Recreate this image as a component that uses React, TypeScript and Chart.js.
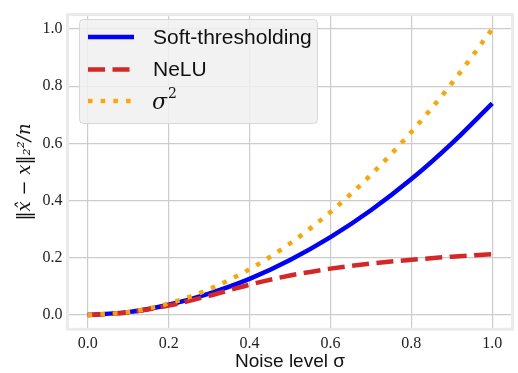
import React, { useEffect, useRef } from "react";
import { Chart, registerables } from "chart.js";

Chart.register(...registerables);

const sigma = [0, 0.1, 0.2, 0.3, 0.4, 0.5, 0.6, 0.7, 0.8, 0.9, 1.0];
const softThresholding = [0, 0.01, 0.036, 0.075, 0.126, 0.192, 0.272, 0.366, 0.475, 0.6, 0.74];
const nelu = [0, 0.009, 0.033, 0.067, 0.106, 0.138, 0.162, 0.18, 0.193, 0.204, 0.213];
const sigmaSquared = [0, 0.01, 0.04, 0.09, 0.16, 0.25, 0.36, 0.49, 0.64, 0.81, 1.0];
const tickValues = [0, 0.2, 0.4, 0.6, 0.8, 1.0];
const seriesLabels = ["Soft-thresholding", "NeLU", "σ²"];

const toPoints = (ys: number[]) => sigma.map((x, i) => ({ x, y: ys[i] }));

const framePlugin = {
  id: "frameAndLegend",
  beforeDatasetsDraw(chart: any) {
    const { ctx, chartArea } = chart;
    ctx.save();
    ctx.strokeStyle = "#ebebeb";
    ctx.lineWidth = 3;
    ctx.strokeRect(chartArea.left, chartArea.top, chartArea.right - chartArea.left, chartArea.bottom - chartArea.top);
    ctx.restore();
  },
  afterDraw(chart: any) {
    const { ctx } = chart;
    ctx.save();
    const bx = 79.5, by = 19.5, bw = 238, bh = 104, r = 4;
    ctx.beginPath();
    ctx.moveTo(bx + r, by);
    ctx.lineTo(bx + bw - r, by);
    ctx.quadraticCurveTo(bx + bw, by, bx + bw, by + r);
    ctx.lineTo(bx + bw, by + bh - r);
    ctx.quadraticCurveTo(bx + bw, by + bh, bx + bw - r, by + bh);
    ctx.lineTo(bx + r, by + bh);
    ctx.quadraticCurveTo(bx, by + bh, bx, by + bh - r);
    ctx.lineTo(bx, by + r);
    ctx.quadraticCurveTo(bx, by, bx + r, by);
    ctx.closePath();
    ctx.fillStyle = "rgba(240,240,240,0.85)";
    ctx.fill();
    ctx.strokeStyle = "#d8d8d8";
    ctx.lineWidth = 1;
    ctx.stroke();

    const rows = [37, 69.5, 101];
    chart.data.datasets.forEach((ds: any, i: number) => {
      const y = rows[i];
      ctx.beginPath();
      ctx.strokeStyle = ds.borderColor;
      ctx.lineWidth = ds.borderWidth;
      ctx.setLineDash(ds.borderDash || []);
      ctx.lineCap = "butt";
      ctx.moveTo(88, y);
      ctx.lineTo(134, y);
      ctx.stroke();
      ctx.setLineDash([]);
      ctx.fillStyle = "#111";
      ctx.textBaseline = "middle";
      ctx.textAlign = "left";
      if (i === 2) {
        ctx.font = "italic 22px 'DejaVu Serif'";
        ctx.fillText("σ", 152, y + 2);
        const w = ctx.measureText("σ").width;
        ctx.font = "14px 'DejaVu Serif'";
        ctx.fillText("2", 152 + w + 1, y - 7);
      } else {
        ctx.font = "21px 'Liberation Sans'";
        ctx.fillText(ds.label, 153, y + 1);
      }
    });
    ctx.restore();
  },
};

export default function App() {
  const ref = useRef<HTMLCanvasElement>(null);
  useEffect(() => {
    if (!ref.current) return;
    const chart = new Chart(ref.current, {
      type: "line",
      data: {
        datasets: [
          {
            label: seriesLabels[0],
            data: toPoints(softThresholding),
            borderColor: "#0000ff",
            borderWidth: 4.5,
            pointRadius: 0,
            cubicInterpolationMode: "monotone",
            fill: false,
            order: 3,
          },
          {
            label: seriesLabels[1],
            data: toPoints(nelu),
            borderColor: "#d62728",
            borderWidth: 4.5,
            borderDash: [17, 7.5],
            pointRadius: 0,
            cubicInterpolationMode: "monotone",
            fill: false,
            order: 2,
          },
          {
            label: seriesLabels[2],
            data: toPoints(sigmaSquared),
            borderColor: "#ffa500",
            borderWidth: 4.5,
            borderDash: [4.5, 8.2],
            borderCapStyle: "butt",
            pointRadius: 0,
            cubicInterpolationMode: "monotone",
            fill: false,
            order: 1,
          },
        ],
      },
      options: {
        animation: false,
        responsive: false,
        devicePixelRatio: 1,
        layout: { padding: { left: 0, right: 5.5, top: 7.7, bottom: 0 } },
        plugins: { legend: { display: false }, tooltip: { enabled: false } },
        scales: {
          x: {
            type: "linear",
            min: -0.05,
            max: 1.05,
            afterBuildTicks: (s: any) => {
              s.ticks = tickValues.map((v) => ({ value: v }));
            },
            afterFit: (s: any) => {
              s.height = 43.7;
            },
            grid: { color: "#cccccc", lineWidth: 1.2, drawTicks: false },
            border: { display: false },
            ticks: {
              padding: 5,
              color: "#222",
              font: { family: "'Liberation Serif'", size: 16 },
              callback: (v: any) => Number(v).toFixed(1),
            },
            title: {
              display: true,
              text: "Noise level σ",
              color: "#111",
              font: { family: "'Liberation Sans'", size: 19 },
              padding: { top: 4, bottom: 0 },
            },
          },
          y: {
            type: "linear",
            min: -0.05,
            max: 1.05,
            afterBuildTicks: (s: any) => {
              s.ticks = tickValues.map((v) => ({ value: v }));
            },
            afterFit: (s: any) => {
              s.width = 67.5;
            },
            grid: { color: "#cccccc", lineWidth: 1.2, drawTicks: false },
            border: { display: false },
            ticks: {
              padding: 5,
              color: "#222",
              font: { family: "'Liberation Serif'", size: 16 },
              callback: (v: any) => Number(v).toFixed(1),
            },
            title: {
              display: true,
              text: "‖x̂ − x‖₂²/n",
              color: "#111",
              font: { family: "'DejaVu Serif'", size: 18, style: "italic" },
              padding: { top: 15, bottom: 4 },
            },
          },
        },
      },
      plugins: [framePlugin],
    } as any);
    return () => chart.destroy();
  }, []);
  return (
    <div style={{ position: "fixed", left: 0, top: 0, width: 518, height: 373, background: "#fff" }}>
      <canvas ref={ref} width={518} height={373} style={{ display: "block" }} />
    </div>
  );
}
